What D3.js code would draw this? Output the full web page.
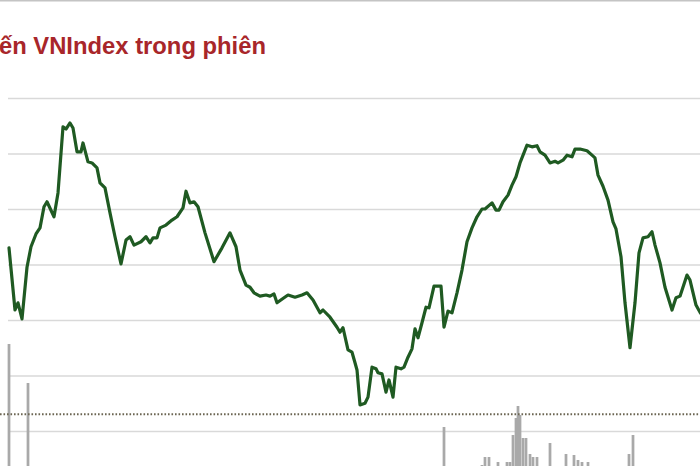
<!DOCTYPE html>
<html>
<head>
<meta charset="utf-8">
<script src="https://cdn.jsdelivr.net/npm/d3@7"></script>
<style>
  body { margin: 0; background: #fff; }
  svg { display: block; }
</style>
</head>
<body>
<div id="chart"></div>
<script>
// minutes since the first point, index points
const times = [0, 2.4, 3.6, 5.2, 7.2, 8.8, 10.8, 12.4, 14, 15.2, 18, 19.6, 21.6, 22.8, 24.4, 25.6, 27.2, 28.8, 29.6, 31.6,
  33.2, 35.2, 36.4, 38.4, 40.4, 42.4, 44.8, 46.8, 48.4, 50, 52.8, 54.8, 56.4, 57.6, 59.2, 60.4, 62.8, 65.2, 67.2, 69.6,
  70.8, 72.4, 74, 75.6, 78.4, 82, 85.2, 88.4, 90.8, 92.4, 94.8, 96.4, 98, 100.4, 102.8, 104.4, 106, 107.2, 110, 111.6,
  114.4, 117.2, 119.2, 121.6, 124.4, 125.6, 128.4, 131.2, 132.4, 133.6, 135.6, 137.2, 138.4, 139.2, 140.4, 142.4, 143.6, 145.2, 146.8, 147.6,
  149.2, 150.8, 152, 153.6, 154.8, 156.8, 158, 159.6, 161.2, 162.4, 163.6, 165.2, 166.8, 168, 170, 172.8, 174, 175.6, 177.2, 179.2,
  181.2, 183.2, 185.2, 187.2, 189.2, 190.4, 193.2, 194.8, 196, 197.6, 199.6, 201.2, 202.8, 204.4, 207.2, 209.2, 211.2, 212.4, 214.4, 216.4,
  218.4, 219.6, 221.6, 223.2, 225.2, 226.4, 228.4, 231.2, 233.2, 234.4, 235.6, 237.6, 239.6, 241.6, 242.8, 244.8, 246.4, 248.4, 250.4, 252,
  253.6, 255.6, 257.2, 258.4, 260.4, 262.4, 265.2, 266.8, 268.4, 271.2, 272.4, 274.8, 276.4, 278];

const index_values = [1231.30, 1230.18, 1230.31, 1230.02, 1230.95, 1231.32, 1231.55, 1231.66, 1232.04, 1232.13, 1231.86, 1232.29, 1233.48, 1233.44, 1233.55, 1233.46, 1233.03, 1233.03, 1233.19, 1232.85,
  1232.83, 1232.74, 1232.47, 1232.38, 1231.93, 1231.50, 1231.01, 1231.44, 1231.50, 1231.35, 1231.41, 1231.50, 1231.39, 1231.48, 1231.48, 1231.66, 1231.71, 1231.80, 1231.86, 1232.02,
  1232.32, 1232.11, 1232.13, 1232.04, 1231.57, 1231.05, 1231.30, 1231.57, 1231.32, 1230.90, 1230.63, 1230.59, 1230.49, 1230.43, 1230.45, 1230.43, 1230.47, 1230.31, 1230.40, 1230.45,
  1230.41, 1230.45, 1230.49, 1230.36, 1230.13, 1230.18, 1230.05, 1229.87, 1229.78, 1229.86, 1229.46, 1229.42, 1229.23, 1229.10, 1228.47, 1228.50, 1228.61, 1229.15, 1229.12, 1229.05,
  1229.03, 1228.70, 1228.92, 1228.61, 1229.15, 1229.12, 1229.15, 1229.33, 1229.48, 1229.84, 1229.68, 1229.95, 1230.23, 1230.22, 1230.61, 1230.61, 1229.87, 1230.16, 1230.13, 1230.49,
  1230.90, 1231.41, 1231.66, 1231.86, 1232.00, 1232.00, 1232.11, 1231.98, 1231.98, 1232.13, 1232.25, 1232.43, 1232.58, 1232.83, 1233.15, 1233.12, 1233.14, 1233.03, 1232.97, 1232.83,
  1232.86, 1232.83, 1232.88, 1232.97, 1232.94, 1233.08, 1233.08, 1233.05, 1232.97, 1232.92, 1232.61, 1232.41, 1232.16, 1231.77, 1231.64, 1231.14, 1230.31, 1229.50, 1230.31, 1231.21,
  1231.48, 1231.50, 1231.59, 1231.35, 1231.03, 1230.59, 1230.18, 1230.40, 1230.43, 1230.81, 1230.72, 1230.27, 1230.14, 1230.04];

// matched volume (million shares)
const vol_times = [0, 7.6, 174, 189.2, 190.4, 192, 195.6, 199.2, 200.4, 201.6, 202.8, 203.6, 204.4, 205.6, 206.8, 208.4, 209.6, 211.2, 216.4, 222.8, 226, 227.6, 229.2, 231.6, 248, 249.6];
const vol_values = [12.6, 8.7, 4.3, 0.5, 1.3, 1.3, 0.8, 0.8, 0.8, 3.5, 5.2, 6.4, 5.5, 3.2, 3.2, 1.6, 1.3, 1.3, 2.7, 1.6, 1.5, 1.0, 0.8, 0.8, 1.6, 3.5];

const grid_ticks = [1228, 1229, 1230, 1231, 1232, 1233, 1234];
const ref_value = 1228.3;
const title = "ến VNIndex trong phiên";

const ttl_width = 700, ttl_height = 466;

const svg = d3.select("#chart")
  .append("svg")
  .attr("width", ttl_width)
  .attr("height", ttl_height)
;

svg.append("rect")
  .attr("width", "100%")
  .attr("height", "100%")
  .attr("fill", "white")
;

// top border
svg.append("line")
  .attr("x1", 0).attr("x2", ttl_width)
  .attr("y1", 0.5).attr("y2", 0.5)
  .style("stroke", "#c4c4c4")
  .style("stroke-width", 2)
;

svg.append("text")
  .attr("x", 266)
  .attr("y", 54)
  .attr("text-anchor", "end")
  .attr("font-family", "'Liberation Sans', Arial, sans-serif")
  .attr("font-weight", "bold")
  .attr("font-size", 23.8)
  .attr("fill", "#a8262a")
  .text(title)
;

// scales
const x = d3.scaleLinear().domain([0, 277]).range([9, 701.5]);
const y = d3.scaleLinear().domain([1228, 1234]).range([431, 98]);
const yv = d3.scaleLinear().domain([0, 10]).range([470, 370]);

// gridlines
const grid = svg.append("g")
  .attr("class", "grid")
  .attr("transform", "translate(8,0)")
  .call(d3.axisRight(y).tickValues(grid_ticks).tickSize(ttl_width).tickFormat(""))
;
grid.select(".domain").remove();
grid.selectAll("line")
  .style("stroke", "#d9d9d9")
  .style("stroke-width", 1.6)
;

// volume bars
const bar_w = x(1.1) - x(0);
svg.append("g")
  .attr("class", "vol")
  .selectAll("rect")
  .data(vol_times.map((t, i) => ({t: t, v: vol_values[i]})))
  .enter()
  .append("rect")
  .attr("x", d => x(d.t) - bar_w / 2)
  .attr("y", d => yv(d.v))
  .attr("width", bar_w)
  .attr("height", d => yv(0) - yv(d.v))
  .attr("fill", "#a9a9a9")
;

// reference (previous close)
svg.append("line")
  .attr("x1", 0).attr("x2", ttl_width)
  .attr("y1", y(ref_value)).attr("y2", y(ref_value))
  .style("stroke", "#6b6552")
  .style("stroke-width", 2)
  .style("stroke-dasharray", "1.6,1.9")
;

// index line
const line = d3.line()
  .x((d, i) => x(times[i]))
  .y(d => y(d))
;

svg.append("path")
  .datum(index_values)
  .attr("d", line)
  .attr("fill", "none")
  .style("stroke", "#1f5a22")
  .style("stroke-width", 3.2)
  .style("stroke-linejoin", "round")
  .style("stroke-linecap", "round")
;
</script>
</body>
</html>
